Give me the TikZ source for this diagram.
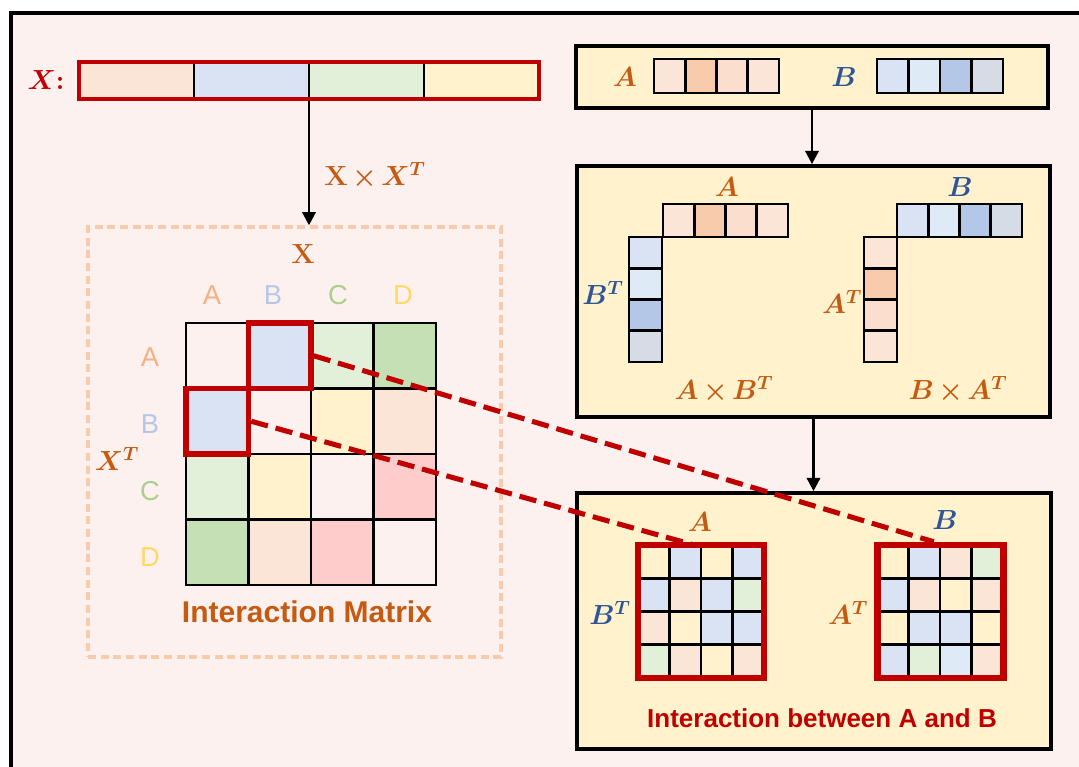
\documentclass[tikz,border=0pt]{standalone}
\usepackage{fontspec}
\usetikzlibrary{arrows.meta}
\newfontfamily\arialfont{Liberation Sans}

\definecolor{bgpink}{HTML}{FDF1F0}
\definecolor{boxyellow}{HTML}{FFF2CC}
\definecolor{hired}{HTML}{C00000}
\definecolor{orangeT}{HTML}{C55A11}
\definecolor{blueT}{HTML}{2F5597}
\definecolor{dashpeach}{HTML}{F8CBAD}
% cell tints
\definecolor{cPe}{HTML}{FBE5D6}
\definecolor{cPe2}{HTML}{F8CBAD}
\definecolor{cPe3}{HTML}{FBDECD}
\definecolor{cBl}{HTML}{DAE3F3}
\definecolor{cBl2}{HTML}{B4C7E7}
\definecolor{cLb}{HTML}{DEEBF7}
\definecolor{cGy}{HTML}{D6DCE5}
\definecolor{cGr}{HTML}{E2F0D9}
\definecolor{cGr2}{HTML}{C5E0B4}
\definecolor{cYe}{HTML}{FFF2CC}
\definecolor{cPk}{HTML}{FFCCCC}
% letter label colours
\definecolor{labA}{HTML}{F4B183}
\definecolor{labB}{HTML}{B4C7E7}
\definecolor{labC}{HTML}{A9D18E}
\definecolor{labD}{HTML}{FFD966}

% filled cells: x0, y0, cell width, cell height, rows of colours
\newcommand\cellgrid[5]{%
  \foreach \row [count=\r from 0] in {#5}{%
    \foreach \col [count=\c from 0] in \row{%
      \path[cellbox, fill=\col] ({#1+\c*#3},{#2+\r*#4}) rectangle ++(#3,#4);
    }%
  }%
}
% tight product sign
\newcommand\tx{\mskip2.5mu{\times}\mskip2.5mu}

\tikzset{
  panel/.style={draw=black, line width=2.8pt, fill=boxyellow, inner sep=0pt},
  cellbox/.style={draw=black, line width=1.9pt},
  hibox/.style={draw=hired, line width=4pt, inner sep=0pt},
  mframe/.style={draw=hired, line width=4.8pt, inner sep=0pt},
  arr/.style={line width=2.1pt, -{Triangle[width=10pt,length=10pt]}},
  link/.style={draw=hired, line width=3.8pt, dash pattern=on 13pt off 6pt},
  mathlbl/.style={font=\fontsize{20.5}{24}\selectfont\boldmath, inner sep=0pt},
  sanslbl/.style={font=\arialfont\fontsize{20.5}{24}\selectfont, inner sep=0pt},
}

\begin{document}
\begin{tikzpicture}[x=0.75pt,y=-0.75pt]
\useasboundingbox (0,0) rectangle (1079,767);
\fill[white] (0,0) rectangle (1079,767);
\fill[bgpink] (11,13) rectangle (1079,767);
\draw[line width=2.6pt] (11,767) -- (11,13) -- (1079,13);

% ---------- input sequence X ----------
\foreach \col [count=\i from 0] in {cPe,cBl,cGr,cYe}
  \fill[\col] ({79+\i*115},62) rectangle ++(115,37);
\foreach \x in {194,309,424}
  \draw[line width=2.2pt] (\x,62) -- (\x,99);
\node[draw=hired, line width=2.8pt, minimum width=345pt, minimum height=27.75pt, inner sep=0pt] (bar) at (309,80.5) {};
\node[mathlbl, text=hired] (lblX) at (46,80) {$X$\textbf{:}};

% ---------- interaction matrix ----------
\node[draw=dashpeach, line width=2.5pt, dash pattern=on 6pt off 3.5pt, minimum width=309.75pt, minimum height=322.5pt, inner sep=0pt] (dbox) at (294.5,442) {};
\draw[arr] (bar.south) -- (bar.south |- dbox.north);
\node[mathlbl, text=orangeT] (lblXXT) at (375,176) {$\mathbf{X}\tx X^{T}$};

\cellgrid{186}{323}{62.5}{65.5}{{none,cBl,cGr,cGr2},{cBl,none,cYe,cPe},{cGr,cYe,none,cPk},{cGr2,cPe,cPk,none}}
\node[hibox, minimum width=46.9pt, minimum height=49.1pt] (hiAB) at (279.75,355.75) {};
\node[hibox, minimum width=46.9pt, minimum height=49.1pt] (hiBA) at (217.25,421.25) {};

\node[mathlbl, text=orangeT] (lblXtop) at (303,254) {$\mathbf{X}$};
\node[mathlbl, text=orangeT] (lblXT) at (117,459) {$X^{T}$};
\foreach \t/\x/\c in {A/212/labA,B/273/labB,C/338/labC,D/403/labD}
  \node[sanslbl, text=\c] (col\t) at (\x,295) {\t};
\foreach \t/\y/\c in {A/357/labA,B/424/labB,C/491/labC,D/557/labD}
  \node[sanslbl, text=\c] (row\t) at (150,\y) {\t};
\node[font=\arialfont\bfseries\fontsize{22.5}{26}\selectfont, text=orangeT, inner sep=0pt] (capIM) at (307,612) {Interaction Matrix};

% ---------- vectors A and B ----------
\node[panel, minimum width=354pt, minimum height=46.5pt] (topbox) at (812,77) {};
\cellgrid{654}{59}{31.25}{34}{{cPe,cPe2,cPe3,cPe}}
\cellgrid{877}{59}{31.5}{34}{{cBl,cLb,cBl2,cGy}}
\node[mathlbl, text=orangeT] (tA) at (625,77) {$A$};
\node[mathlbl, text=blueT] (tB) at (844,77) {$B$};

% ---------- products ----------
\node[panel, minimum width=354.75pt, minimum height=188.25pt] (midbox) at (813.5,291.5) {};
\draw[arr] (topbox.south) -- (topbox.south |- midbox.north);
\cellgrid{663}{204}{31.25}{33}{{cPe,cPe2,cPe3,cPe}}
\cellgrid{629}{237}{33}{31.25}{{cBl},{cLb},{cBl2},{cGy}}
\cellgrid{897}{204}{31.25}{33}{{cBl,cLb,cBl2,cGy}}
\cellgrid{864}{237}{33}{31.25}{{cPe},{cPe2},{cPe3},{cPe}}
\node[mathlbl, text=orangeT] (mA) at (727,187) {$A$};
\node[mathlbl, text=blueT] (mB) at (960,187) {$B$};
\node[mathlbl, text=blueT] (mBT) at (603,293) {$B^{T}$};
\node[mathlbl, text=orangeT] (mAT) at (842,302) {$A^{T}$};
\node[mathlbl, text=orangeT] (mAB) at (724,390) {$A\tx B^{T}$};
\node[mathlbl, text=orangeT] (mBA) at (958,390) {$B\tx A^{T}$};

% ---------- interaction between A and B ----------
\node[panel, minimum width=355.5pt, minimum height=192pt] (botbox) at (814,621) {};
\draw[arr] (midbox.south) -- (midbox.south |- botbox.north);
\cellgrid{638}{545}{31.5}{33.25}{{cYe,cBl,cYe,cBl},{cBl,cPe,cBl,cGr},{cPe,cYe,cBl,cBl},{cGr,cPe,cYe,cPe}}
\cellgrid{877}{545}{31.5}{33.25}{{cYe,cBl,cPe,cGr},{cBl,cPe,cYe,cPe},{cYe,cBl,cBl,cYe},{cBl,cGr,cLb,cPe}}
\node[mframe, minimum width=94.5pt, minimum height=99.75pt] (matA) at (701,611.5) {};
\node[mframe, minimum width=94.5pt, minimum height=99.75pt] (matB) at (940.5,611.5) {};
\node[mathlbl, text=orangeT] (bA) at (700,522) {$A$};
\node[mathlbl, text=blueT] (bB) at (945,520) {$B$};
\node[mathlbl, text=blueT] (bBT) at (610,613) {$B^{T}$};
\node[mathlbl, text=orangeT] (bAT) at (848,613) {$A^{T}$};
\node[font=\arialfont\bfseries\fontsize{19.5}{24}\selectfont, text=hired, inner sep=0pt] (capAB) at (822,718) {Interaction between A and B};

% ---------- links from highlighted entries ----------
\draw[link] (hiAB.east) -- ([xshift=-5pt]matB.north);
\draw[link] (hiBA.east) -- ([xshift=-3pt,yshift=-3pt]matA.north);
\end{tikzpicture}
\end{document}
